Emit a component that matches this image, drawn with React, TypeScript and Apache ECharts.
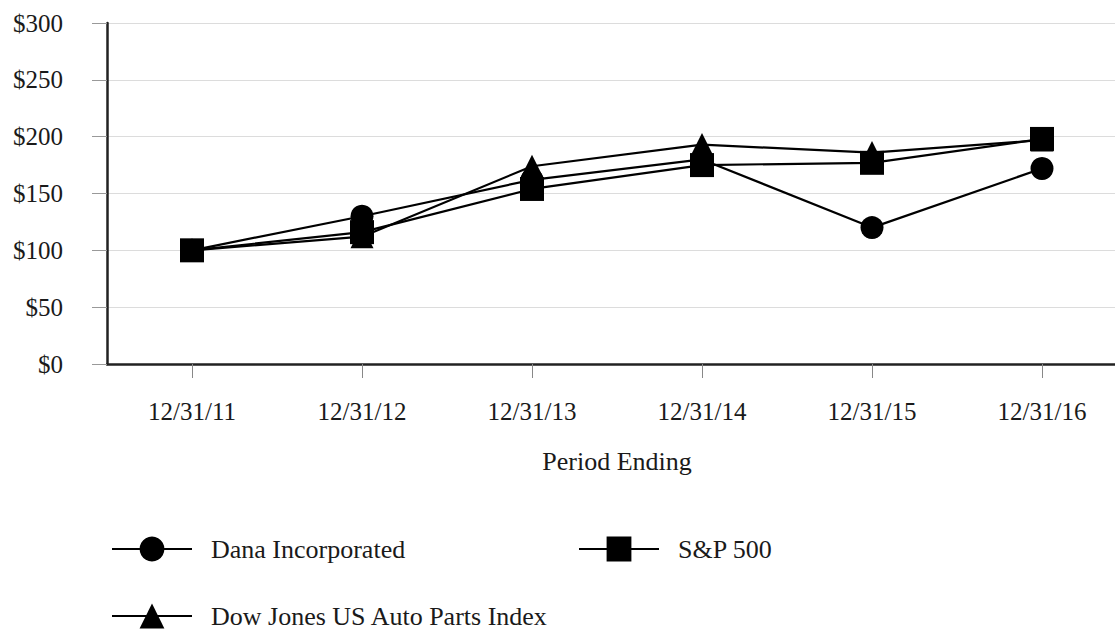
import React, { useEffect, useRef } from "react";
import * as echarts from "echarts";

const categories = ["12/31/11", "12/31/12", "12/31/13", "12/31/14", "12/31/15", "12/31/16"];
const danaValues = [100, 130, 162, 180, 120, 172];
const djValues = [100, 112, 174, 193, 186, 197];
const spValues = [100, 116, 154, 175, 177, 198];
const yTicks = [0, 50, 100, 150, 200, 250, 300];

const FONT = "'Liberation Serif', 'Times New Roman', serif";
const TXT = "#1a1a1a";

export default function App() {
  const ref = useRef<HTMLDivElement>(null);
  useEffect(() => {
    if (!ref.current) return;
    const chart = echarts.init(ref.current, undefined, { renderer: "svg" });
    const lineStyle = { color: "#000", width: 2.2 };
    const legendCommon = {
      orient: "horizontal",
      padding: 0,
      itemWidth: 80,
      itemHeight: 31,
      icon: undefined,
      textStyle: { fontFamily: FONT, fontSize: 26, color: TXT, padding: [0, 0, 0, 14] },
      selectedMode: false,
    };
    chart.setOption({
      animation: false,
      backgroundColor: "#fff",
      grid: { left: 107, right: 0, top: 23, bottom: 266, containLabel: false },
      xAxis: {
        type: "category",
        data: categories,
        boundaryGap: true,
        name: "Period Ending",
        nameLocation: "middle",
        nameGap: 84,
        nameTextStyle: { fontFamily: FONT, fontSize: 26, color: TXT },
        axisLine: { show: true, lineStyle: { color: "#222", width: 2.5 } },
        axisTick: { show: true, alignWithLabel: true, length: 14, lineStyle: { color: "#888", width: 1 } },
        axisLabel: { fontFamily: FONT, fontSize: 25, color: TXT, margin: 35 },
        splitLine: { show: false },
      },
      yAxis: {
        type: "value",
        min: yTicks[0],
        max: yTicks[yTicks.length - 1],
        interval: 50,
        axisLine: { show: true, lineStyle: { color: "#222", width: 2.5 } },
        axisTick: { show: true, length: 15, lineStyle: { color: "#999", width: 1 } },
        axisLabel: {
          fontFamily: FONT,
          fontSize: 25,
          color: TXT,
          margin: 44,
          formatter: (v: number) => "$" + v,
        },
        splitLine: { show: true, lineStyle: { color: "#dcdcdc", width: 1.2 } },
      },
      legend: [
        { ...legendCommon, left: 111, top: 536, data: ["Dana Incorporated"] },
        { ...legendCommon, left: 578, top: 536, data: ["S&P 500"] },
        { ...legendCommon, left: 111, top: 603, data: ["Dow Jones US Auto Parts Index"] },
      ],
      series: [
        {
          name: "Dana Incorporated",
          type: "line",
          data: danaValues,
          symbol: "circle",
          symbolSize: 23,
          lineStyle,
          itemStyle: { color: "#000" },
        },
        {
          name: "Dow Jones US Auto Parts Index",
          type: "line",
          data: djValues,
          symbol: "triangle",
          symbolSize: 23,
          lineStyle,
          itemStyle: { color: "#000" },
        },
        {
          name: "S&P 500",
          type: "line",
          data: spValues,
          symbol: "rect",
          symbolSize: 24,
          lineStyle,
          itemStyle: { color: "#000" },
        },
      ],
    });
    return () => chart.dispose();
  }, []);
  return (
    <div
      style={{
        position: "fixed",
        left: 0,
        top: 0,
        width: 1115,
        height: 630,
        overflow: "hidden",
        background: "#fff",
      }}
    >
      <div ref={ref} style={{ width: 1127, height: 630 }} />
    </div>
  );
}
